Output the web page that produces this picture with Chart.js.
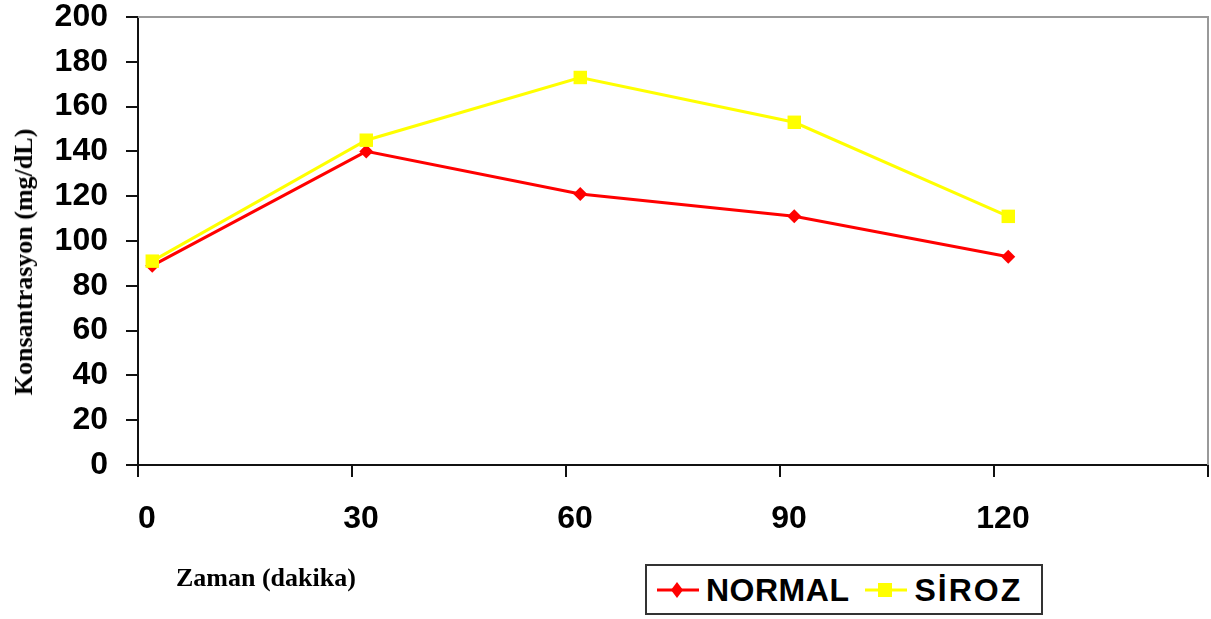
<!DOCTYPE html>
<html lang="tr">
<head>
<meta charset="utf-8">
<title>Konsantrasyon - Zaman</title>
<script src="https://cdn.jsdelivr.net/npm/chart.js@4.4.1/dist/chart.umd.min.js"></script>
<style>
  html, body { margin: 0; padding: 0; background: #ffffff; }
  #wrap { position: relative; width: 1211px; height: 619px; overflow: hidden; }
  #chart { position: absolute; left: 0; top: 0; }
  .axis-title {
    position: absolute; white-space: nowrap; color: #000;
    font: bold 26px "Liberation Serif", "Times New Roman", serif; line-height: 1;
  }
  #xTitle { left: 176px; top: 565px; }
  #yTitle { left: 24px; top: 262px; transform: translate(-50%, -50%) rotate(-90deg); }
  #legend {
    position: absolute; left: 645px; top: 564px; width: 394px; height: 47px;
    border: 2px solid #333; background: #fff;
    display: flex; align-items: center; box-sizing: content-box;
  }
  .lg-item { display: flex; align-items: center; margin-left: 10px; }
  .lg-item + .lg-item { margin-left: 16px; }
  .lg-item svg { display: block; }
  .lg-text {
    font: bold 32px "Liberation Sans", Arial, sans-serif; color: #000;
    margin-left: 7px; letter-spacing: 0.5px; line-height: 1;
  }
  .lg-item:last-child .lg-text { letter-spacing: 2px; }
</style>
</head>
<body>
<div id="wrap">
  <canvas id="chart" width="1211" height="619"></canvas>
  <div id="yTitle" class="axis-title">Konsantrasyon (mg/dL)</div>
  <div id="xTitle" class="axis-title">Zaman (dakika)</div>
  <div id="legend"></div>
</div>
<script>
// Sampling times (minutes) and measured concentrations (mg/dL)
const TIMES = [0, 30, 60, 90, 120];
const NORMAL = [89, 140, 121, 111, 93];
const SIROZ = [91, 145, 173, 153, 111];

// Axis tick labels
const X_TICK_LABELS = ['0', '30', '60', '90', '120', ''];
const X_TICK_STEP = 30;
const Y_MIN = 0;
const Y_MAX = 200;
const Y_STEP = 20;

// Each time band starts a little before its measurement point
const X_BAND_LEAD = 2;

const SERIES = [
  { label: 'NORMAL', values: NORMAL, color: '#FF0000', pointStyle: 'rectRot', radius: 7, order: 1 },
  { label: 'SİROZ',  values: SIROZ,  color: '#FFFF00', pointStyle: 'rect',    radius: 9.5, order: 0 }
];

const tickFont = { family: '"Liberation Sans", Arial, sans-serif', size: 32, weight: 'bold', lineHeight: 1.1 };

const datasets = SERIES.map(s => ({
  label: s.label,
  data: TIMES.map((t, i) => ({ x: t, y: s.values[i] })),
  borderColor: s.color,
  backgroundColor: s.color,
  borderWidth: 3,
  pointStyle: s.pointStyle,
  pointRadius: s.radius,
  pointHoverRadius: s.radius,
  pointBorderWidth: 0,
  pointBackgroundColor: s.color,
  tension: 0,
  order: s.order,
  clip: false
}));

// Thin grey frame along the top and right of the plot area
const plotFrame = {
  id: 'plotFrame',
  beforeDatasetsDraw(chart) {
    const { ctx, chartArea: a } = chart;
    ctx.save();
    ctx.strokeStyle = '#999';
    ctx.lineWidth = 2;
    ctx.beginPath();
    ctx.moveTo(a.left, a.top);
    ctx.lineTo(a.right, a.top);
    ctx.lineTo(a.right, a.bottom);
    ctx.stroke();
    ctx.restore();
  }
};

// HTML legend built from the chart's datasets
const htmlLegend = {
  id: 'htmlLegend',
  afterUpdate(chart) {
    const box = document.getElementById('legend');
    box.innerHTML = '';
    chart.data.datasets.forEach(ds => {
      const item = document.createElement('div');
      item.className = 'lg-item';
      let marker;
      if (ds.pointStyle === 'rect') {
        marker = `<rect x="13" y="7" width="14" height="14" fill="${ds.borderColor}"/>`;
      } else {
        marker = `<polygon points="20,6 26,14 20,22 14,14" fill="${ds.borderColor}"/>`;
      }
      item.innerHTML =
        `<svg width="42" height="28" viewBox="0 0 42 28">` +
        `<line x1="0" y1="14" x2="42" y2="14" stroke="${ds.borderColor}" stroke-width="3"/>` +
        marker + `</svg>`;
      const txt = document.createElement('span');
      txt.className = 'lg-text';
      txt.textContent = ds.label;
      item.appendChild(txt);
      box.appendChild(item);
    });
  }
};

new Chart(document.getElementById('chart'), {
  type: 'line',
  data: { datasets },
  options: {
    responsive: false,
    animation: false,
    devicePixelRatio: 1,
    layout: { autoPadding: false, padding: { left: 5, top: 17, right: 3, bottom: 82 } },
    plugins: {
      legend: { display: false },
      tooltip: { enabled: false }
    },
    scales: {
      x: {
        type: 'linear',
        position: 'bottom',
        min: -X_BAND_LEAD,
        max: X_TICK_STEP * (X_TICK_LABELS.length - 1) - X_BAND_LEAD,
        afterBuildTicks(scale) {
          scale.ticks = X_TICK_LABELS.map((_, i) => ({ value: i * X_TICK_STEP - X_BAND_LEAD }));
        },
        afterFit(scale) {
          scale.height = 72;
          scale.paddingLeft = 0;
          scale.paddingRight = 0;
        },
        ticks: {
          autoSkip: false,
          maxRotation: 0,
          padding: 25,
          labelOffset: 9,
          color: '#000',
          font: tickFont,
          callback: (v, i) => X_TICK_LABELS[i]
        },
        grid: { display: true, drawOnChartArea: false, drawTicks: true, tickLength: 12, color: '#111', lineWidth: 2 },
        border: { display: true, color: '#111', width: 2 }
      },
      y: {
        position: 'left',
        min: Y_MIN,
        max: Y_MAX,
        afterFit(scale) {
          scale.width = 133;
          scale.paddingTop = 0;
          scale.paddingBottom = 0;
        },
        ticks: {
          stepSize: Y_STEP,
          padding: 18,
          color: '#000',
          font: { ...tickFont, lineHeight: 1 }
        },
        grid: { display: true, drawOnChartArea: false, drawTicks: true, tickLength: 12, color: '#111', lineWidth: 2 },
        border: { display: true, color: '#111', width: 2 }
      }
    }
  },
  plugins: [plotFrame, htmlLegend]
});
</script>
</body>
</html>
